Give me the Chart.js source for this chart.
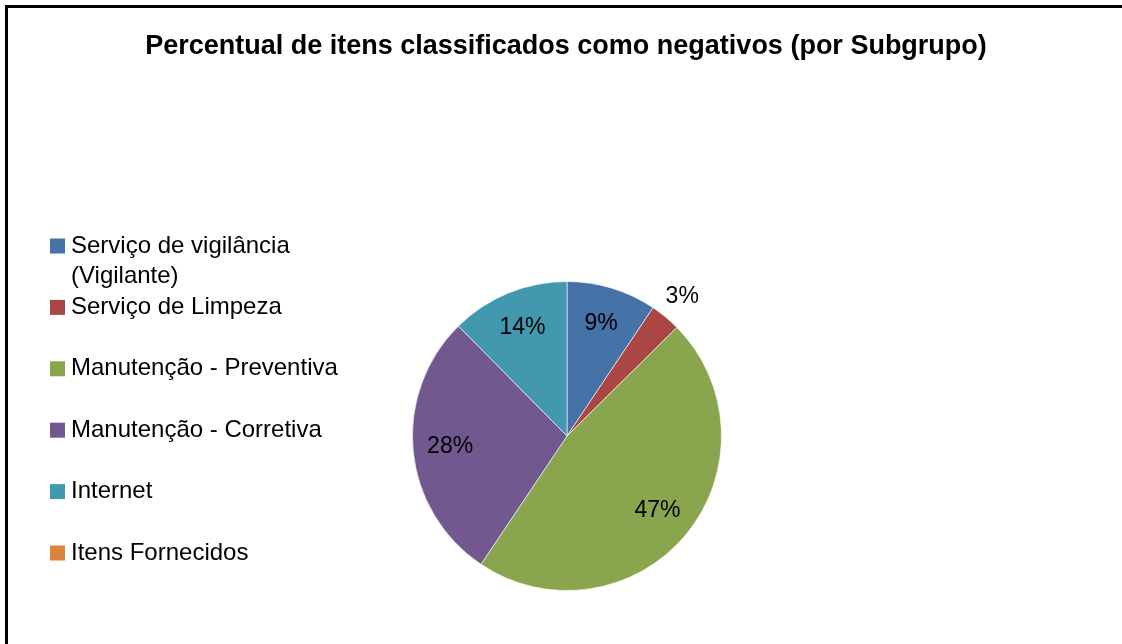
<!DOCTYPE html>
<html>
<head>
<meta charset="utf-8">
<title>Percentual de itens classificados como negativos</title>
<script src="https://cdn.jsdelivr.net/npm/chart.js"></script>
<style>
  html, body { margin: 0; padding: 0; background: #fff; overflow: hidden; }
  #frame { position: absolute; left: 5px; top: 5px; width: 1200px; height: 700px;
           border-left: 3px solid #000; border-top: 3px solid #000; }
  #wrap { position: absolute; left: 0; top: 0; width: 1122px; height: 644px; }
</style>
</head>
<body>
<div id="frame"></div>
<div id="wrap"><canvas id="chart" width="1122" height="644"></canvas></div>

<script>
  const chartTitle = 'Percentual de itens classificados como negativos (por Subgrupo)';
  const categories = ['Serviço de vigilância (Vigilante)', 'Serviço de Limpeza', 'Manutenção - Preventiva',
                      'Manutenção - Corretiva', 'Internet', 'Itens Fornecidos'];
  const shares = [9.4, 3.2, 46.8, 28.2, 12.4, 0];
  const shareLabels = ['9%', '3%', '47%', '28%', '14%', ''];
  const sliceColors = ['#4572A7', '#AA4643', '#89A54E', '#71588F', '#4198AF', '#DB843D'];

  const FONT = "'Liberation Sans', Arial, sans-serif";

  // title, legend and slice labels drawn by hand (Excel-style layout)
  const decorations = {
    id: 'decorations',
    afterDraw(chart) {
      const ctx = chart.ctx;
      ctx.save();
      ctx.fillStyle = '#000';
      ctx.textBaseline = 'middle';

      // title
      ctx.font = 'bold 27px ' + FONT;
      ctx.textAlign = 'center';
      ctx.fillText(chartTitle, 566, 47);

      // legend
      ctx.font = '24px ' + FONT;
      ctx.textAlign = 'left';
      categories.forEach((name, i) => {
        const y = 246 + 61.4 * i;
        ctx.fillStyle = sliceColors[i];
        ctx.fillRect(50, y - 7.5, 15, 15);
        ctx.fillStyle = '#000';
        // word wrap
        const words = name.split(' ');
        let line = '', lines = [];
        words.forEach(w => {
          const t = line ? line + ' ' + w : w;
          if (ctx.measureText(t).width > 290 && line) { lines.push(line); line = w; }
          else line = t;
        });
        lines.push(line);
        lines.forEach((l, j) => ctx.fillText(l, 71, y + j * 30.5));
      });

      // slice labels
      ctx.font = '23px ' + FONT;
      ctx.textAlign = 'center';
      const meta = chart.getDatasetMeta(0);
      meta.data.forEach((arc, i) => {
        if (!shareLabels[i]) return;
        const p = arc.getProps(['x', 'y', 'startAngle', 'endAngle', 'outerRadius'], true);
        const mid = (p.startAngle + p.endAngle) / 2;
        const small = shares[i] < 5;
        const r = p.outerRadius * (small ? 1.17 : 0.76);
        ctx.fillText(shareLabels[i], p.x + Math.cos(mid) * r, p.y + Math.sin(mid) * r);
      });
      ctx.restore();
    }
  };

  new Chart(document.getElementById('chart'), {
    type: 'pie',
    data: {
      labels: categories,
      datasets: [{
        data: shares,
        backgroundColor: sliceColors,
        borderColor: 'rgba(255,255,255,0.6)',
        borderWidth: 1
      }]
    },
    options: {
      responsive: false,
      animation: false,
      layout: { padding: { left: 412, right: 400, top: 281, bottom: 53 } },
      plugins: {
        legend: { display: false },
        title: { display: false },
        tooltip: { enabled: false }
      }
    },
    plugins: [decorations]
  });
</script>
</body>
</html>
